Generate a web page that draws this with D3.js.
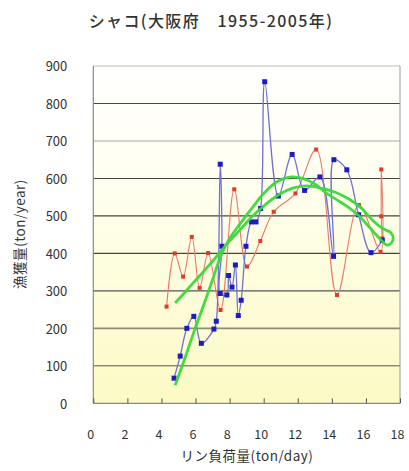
<!DOCTYPE html>
<html><head><meta charset="utf-8">
<script src="https://cdn.jsdelivr.net/npm/d3@7"></script>
<style>body{margin:0;background:#fff}svg{display:block}text{font-family:"Noto Sans CJK JP","Noto Sans",sans-serif}</style>
</head><body>
<script>
const title = "シャコ(大阪府　1955-2005年)";
const xTitle = "リン負荷量(ton/day)";
const yTitle = "漁獲量(ton/year)";
const xTicks = [0,2,4,6,8,10,12,14,16,18];
const yTicks = [0,100,200,300,400,500,600,700,800,900];

// blue series (earlier years)
const blueX = [4.74,5.1,5.49,5.9,6.34,7.08,7.22,7.45,7.55,7.45,7.84,7.94,8.14,8.34,8.51,8.68,8.96,9.29,9.55,9.82,10.06,10.86,11.67,12.4,13.3,14.1,14.12,14.88,15.57,16.3,16.96];
const blueY = [67,126,200,232,160,198,219,638,419,293,289,341,310,369,234,275,419,484,484,520,858,553,664,568,604,392,650,623,503,402,435];
// red series (later years)
const redX = [16.96,16.9,16.9,16.86,15.59,14.3,13.08,11.86,10.59,9.8,9.02,8.27,7.47,6.74,6.24,5.78,5.27,4.78,4.3];
const redY = [440,499,624,404,529,289,677,560,511,433,365,571,249,401,308,444,338,400,258];
// green smoothed trajectory
const greenX = [4.8,5.3,5.9,6.5,7.0,7.5,8.0,8.6,9.3,10.0,10.8,11.6,12.3,13.0,13.7,14.4,15.0,15.6,16.2,16.8,17.25,17.5,17.6,17.45,17.0,16.4,15.7,15.0,14.2,13.3,12.5,11.7,10.9,10.1,9.3,8.6,7.9,7.2,6.5,5.8,5.2,4.8];
const greenY = [48,110,190,265,330,395,440,478,520,560,592,604,600,585,560,540,522,500,470,440,422,428,442,456,466,488,522,545,563,575,580,574,557,530,497,462,428,390,353,318,287,268];

const W = 409, H = 471;
const svg = d3.select("body").append("svg").attr("width", W).attr("height", H);
const x = d3.scaleLinear().domain([0,18]).range([93.3,400]);
const y = d3.scaleLinear().domain([0,900]).range([403.3,66]);

const defs = svg.append("defs");
const grad = defs.append("linearGradient").attr("id","bg").attr("x1",0).attr("y1",0).attr("x2",0).attr("y2",1);
grad.append("stop").attr("offset","0%").attr("stop-color","#ffffff");
grad.append("stop").attr("offset","30%").attr("stop-color","#fffff2");
grad.append("stop").attr("offset","100%").attr("stop-color","#fcfac4");

svg.append("rect").attr("x", x(0)).attr("y", y(900)).attr("width", x(18)-x(0)).attr("height", y(0)-y(900)).attr("fill","url(#bg)");

// gridlines
const gridColor = {100:"#8f8b78",200:"#8f8b78",300:"#555",400:"#444",500:"#444",600:"#444",700:"#a8a8a8",800:"#444",900:"#bbb"};
svg.append("g").selectAll("line").data(yTicks.filter(d=>d>0)).join("line")
  .attr("x1", x(0)).attr("x2", x(18)).attr("y1", d=>y(d)).attr("y2", d=>y(d))
  .attr("stroke", d=>gridColor[d]).attr("stroke-width", d=> d<=200?1.6:1.1);

// frame
svg.append("line").attr("x1",x(0)).attr("x2",x(0)).attr("y1",y(900)).attr("y2",y(0)).attr("stroke","#888").attr("stroke-width",1.2);
svg.append("line").attr("x1",x(18)).attr("x2",x(18)).attr("y1",y(900)).attr("y2",y(0)).attr("stroke","#999").attr("stroke-width",1);
svg.append("line").attr("x1",x(0)).attr("x2",x(18)).attr("y1",y(0)).attr("y2",y(0)).attr("stroke","#888").attr("stroke-width",1.2);

// x axis ticks
const xAxis = d3.axisBottom(x).tickValues(xTicks).tickSize(-5).tickPadding(0).tickFormat(d3.format("d"));
const gx = svg.append("g").attr("transform", `translate(0,${y(0)})`).call(xAxis);
gx.select(".domain").remove();
gx.selectAll(".tick line").attr("stroke","#555");
gx.selectAll(".tick text").attr("y", 36).attr("dy",0).attr("dx",-3).attr("font-size",12.5).attr("fill","#333")
  .style("font-family","'Noto Sans CJK JP',sans-serif");

// y axis labels
const yAxis = d3.axisLeft(y).tickValues(yTicks).tickSize(0).tickPadding(26);
const gy = svg.append("g").attr("transform", `translate(${x(0)},0)`).call(yAxis);
gy.select(".domain").remove();
gy.selectAll(".tick text").attr("font-size",13).attr("fill","#333").attr("dy","0.38em")
  .style("font-family","'Noto Sans CJK JP',sans-serif");

// lines
const smooth = d3.line().curve(d3.curveCatmullRom.alpha(0.5)).x(d=>x(d[0])).y(d=>y(d[1]));
const blue = blueX.map((v,i)=>[v,blueY[i]]);
const red = redX.map((v,i)=>[v,redY[i]]);
const green = greenX.map((v,i)=>[v,greenY[i]]);

svg.append("path").attr("d", smooth(red)).attr("fill","none").attr("stroke","#e87a6a").attr("stroke-width",1.1);
svg.append("g").selectAll("rect").data(red).join("rect")
  .attr("x", d=>x(d[0])-2).attr("y", d=>y(d[1])-2).attr("width",4).attr("height",4).attr("fill","#e03a2a");

svg.append("path").attr("d", smooth(blue)).attr("fill","none").attr("stroke","#7070d8").attr("stroke-width",1.3);
svg.append("g").selectAll("rect").data(blue).join("rect")
  .attr("x", d=>x(d[0])-2.5).attr("y", d=>y(d[1])-2.5).attr("width",5).attr("height",5).attr("fill","#1c1cc0");

svg.append("path").attr("d", smooth(green))
  .attr("fill","none").attr("stroke","#3ad83a").attr("stroke-width",2.8).attr("stroke-linejoin","round").attr("opacity",0.95);

// titles
svg.append("text").attr("x", 211).attr("y", 27).attr("text-anchor","middle").attr("font-size",16).attr("font-weight","500").attr("letter-spacing",1.4).attr("fill","#333").text(title);
svg.append("text").attr("x", 247).attr("y", 461).attr("text-anchor","middle").attr("font-size",13.5).attr("letter-spacing",0.5).attr("fill","#333").text(xTitle);
svg.append("text").attr("transform","translate(25,234) rotate(-90)").attr("text-anchor","middle").attr("font-size",13.5).attr("letter-spacing",0.5).attr("fill","#333").text(yTitle);
</script>
</body></html>
